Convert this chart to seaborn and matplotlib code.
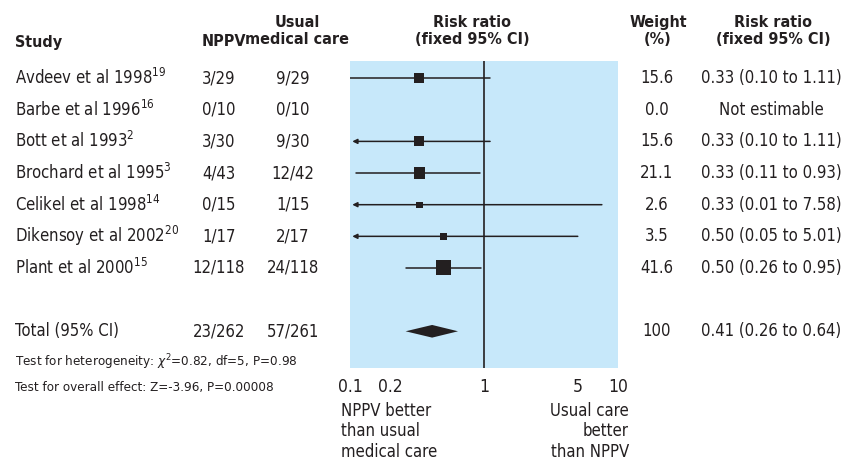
import numpy as np
import pandas as pd
import matplotlib.pyplot as plt
import seaborn as sns
from matplotlib.transforms import blended_transform_factory

# data
studies = ['Avdeev et al 1998', 'Barbe et al 1996', 'Bott et al 1993', 'Brochard et al 1995',
           'Celikel et al 1998', 'Dikensoy et al 2002', 'Plant et al 2000']
refs = ['19', '16', '2', '3', '14', '20', '15']
nppv = ['3/29', '0/10', '3/30', '4/43', '0/15', '1/17', '12/118']
usual = ['9/29', '0/10', '9/30', '12/42', '1/15', '2/17', '24/118']
weight = [15.6, 0.0, 15.6, 21.1, 2.6, 3.5, 41.6]
rr = [0.33, np.nan, 0.33, 0.33, 0.33, 0.50, 0.50]
lo = [0.10, np.nan, 0.10, 0.11, 0.01, 0.05, 0.26]
hi = [1.11, np.nan, 1.11, 0.93, 7.58, 5.01, 0.95]
arrow_left = [False, False, True, False, True, True, False]
rr_text = ['0.33 (0.10 to 1.11)', 'Not estimable', '0.33 (0.10 to 1.11)', '0.33 (0.11 to 0.93)',
           '0.33 (0.01 to 7.58)', '0.50 (0.05 to 5.01)', '0.50 (0.26 to 0.95)']
total_nppv, total_usual = '23/262', '57/261'
total_rr, total_lo, total_hi = 0.41, 0.26, 0.64
total_text = '0.41 (0.26 to 0.64)'
xticks = [0.1, 0.2, 1, 5, 10]

sns.set_style('white')
plt.rcParams['font.family'] = ['DejaVu Sans']
plt.rcParams['font.stretch'] = 'condensed'
plt.rcParams['mathtext.fontset'] = 'dejavusans'

ink = '#231f20'
W, H = 862, 470
fig = plt.figure(figsize=(W / 100, H / 100), dpi=100)
fx = lambda px: px / W
fy = lambda py: 1 - py / H

# forest panel
ax = fig.add_axes([fx(350), fy(368), fx(618) - fx(350), (368 - 61) / H])
ax.set_facecolor('#c7e8fa')
for s in ax.spines.values():
    s.set_visible(False)
ax.set_xscale('log')
ax.set_xlim(0.1, 10)
ax.set_ylim(9.16, -0.54)

rows = np.arange(len(studies))
total_row = 8

df = pd.DataFrame({'study': studies, 'row': rows, 'rr': rr, 'lo': lo, 'hi': hi, 'weight': weight})
est = df.dropna()

for _, r in est.iterrows():
    x0 = max(r['lo'], 0.1)
    x1 = min(r['hi'], 10)
    if arrow_left[int(r['row'])]:
        ax.annotate('', xy=(0.104, r['row']), xytext=(x1, r['row']),
                    arrowprops=dict(arrowstyle='-|>', mutation_scale=7, lw=1.1,
                                    color=ink, shrinkA=0, shrinkB=0))
    else:
        ax.plot([x0, x1], [r['row'], r['row']], color=ink, lw=1.1)

sns.scatterplot(data=est, x='rr', y='row', size='weight', sizes=(19, 117), size_norm=(2.6, 41.6),
                marker='s', color=ink, linewidth=0, legend=False, ax=ax, zorder=3)

# pooled diamond
ax.fill([total_lo, total_rr, total_hi, total_rr],
        [total_row, total_row - 0.2, total_row, total_row + 0.2], color=ink, lw=0, zorder=3)

ax.axvline(1, color=ink, lw=1.2, zorder=2)

ax.set_xticks(xticks)
ax.set_xticklabels([f'{t:g}' for t in xticks])
ax.minorticks_off()
ax.set_yticks([])
ax.set_xlabel('')
ax.set_ylabel('')
ax.tick_params(axis='x', direction='in', length=5, width=1.5, color='white',
               labelsize=12.5, labelcolor=ink, pad=7)

# text columns (x in figure, y in data rows)
bt = blended_transform_factory(fig.transFigure, ax.transData)
fs = 12

for i in rows:
    ax.text(fx(15), i, studies[i] + r'$^{\mathregular{' + refs[i] + '}}$', transform=bt,
            ha='left', va='center', fontsize=fs, color=ink)
    ax.text(fx(219), i, nppv[i], transform=bt, ha='center', va='center', fontsize=fs, color=ink)
    ax.text(fx(293), i, usual[i], transform=bt, ha='center', va='center', fontsize=fs, color=ink)
    ax.text(fx(657), i, f'{weight[i]:.1f}', transform=bt, ha='center', va='center', fontsize=fs, color=ink)
    ax.text(fx(771), i, rr_text[i], transform=bt, ha='center', va='center', fontsize=fs, color=ink)

ax.text(fx(15), total_row, 'Total (95% CI)', transform=bt, ha='left', va='center', fontsize=fs, color=ink)
ax.text(fx(219), total_row, total_nppv, transform=bt, ha='center', va='center', fontsize=fs, color=ink)
ax.text(fx(293), total_row, total_usual, transform=bt, ha='center', va='center', fontsize=fs, color=ink)
ax.text(fx(657), total_row, '100', transform=bt, ha='center', va='center', fontsize=fs, color=ink)
ax.text(fx(771), total_row, total_text, transform=bt, ha='center', va='center', fontsize=fs, color=ink)

# headers
hkw = dict(fontsize=11.5, fontweight='bold', color=ink, va='center', linespacing=1.15)
fig.text(fx(15), fy(42), 'Study', ha='left', **hkw)
fig.text(fx(246), fy(42), 'NPPV', ha='right', **hkw)
fig.text(fx(297), fy(31), 'Usual\nmedical care', ha='center', **hkw)
fig.text(fx(472), fy(31), 'Risk ratio\n(fixed 95% CI)', ha='center', **hkw)
fig.text(fx(658), fy(31), 'Weight\n(%)', ha='center', **hkw)
fig.text(fx(773), fy(31), 'Risk ratio\n(fixed 95% CI)', ha='center', **hkw)

# tests
fig.text(fx(15), fy(362), r'Test for heterogeneity: $\chi^{\mathregular{2}}$=0.82, df=5, P=0.98',
         ha='left', va='center', fontsize=9.6, color=ink)
fig.text(fx(15), fy(388), 'Test for overall effect: Z=-3.96, P=0.00008',
         ha='left', va='center', fontsize=9.6, color=ink)

# direction labels
fig.text(fx(341), fy(402), 'NPPV better\nthan usual\nmedical care', ha='left', va='top',
         fontsize=12, color=ink, linespacing=1.17)
fig.text(fx(629), fy(402), 'Usual care\nbetter\nthan NPPV', ha='right', va='top',
         fontsize=12, color=ink, linespacing=1.17)

fig.savefig('out.png', dpi=100)
